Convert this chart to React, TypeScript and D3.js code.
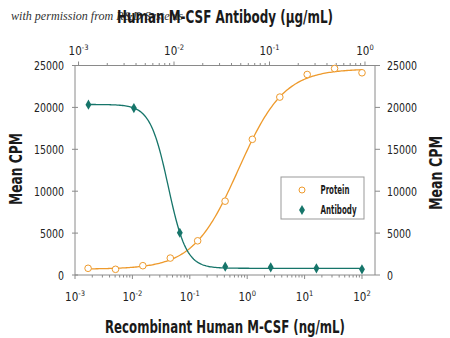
import React from 'react';
import * as d3 from 'd3';

// Protein (ng/mL, bottom axis)
const proteinConc = [0.00169, 0.00508, 0.0152, 0.0457, 0.137, 0.412, 1.23, 3.7, 11.1, 33.3, 100];
const proteinCPM = [800, 680, 1110, 2020, 4080, 8810, 16190, 21230, 23930, 24640, 24130];
// Antibody (µg/mL, top axis)
const antibodyConc = [0.00127, 0.0038, 0.0115, 0.0344, 0.103, 0.31, 0.93];
const antibodyCPM = [20320, 19920, 5040, 990, 910, 800, 680];

// fitted 4PL curve parameters
const proteinFit = { bottom: 700, top: 24600, ec50: 0.71, hill: 1.1 };
const antibodyFit = { bottom: 800, top: 20350, ec50: 0.0087, hill: 4.6 };

const yTicks = [0, 5000, 10000, 15000, 20000, 25000];
const bottomExps = [-3, -2, -1, 0, 1, 2];
const topExps = [-3, -2, -1, 0];

const FONT = "'Liberation Sans Narrow', 'DejaVu Sans Condensed', 'Roboto Condensed', sans-serif";
const ORANGE = '#EE9A2C';
const TEAL = '#16756A';
const AXIS = '#8a8a8a';

const L = 75, R = 375, T = 65.5, B = 275;

function PowLabel({ cx, y, e }: { cx: number; y: number; e: number }) {
  return (
    <text x={cx} y={y} textAnchor="middle" fontFamily={FONT} fontSize={11.5} fill="#222">
      10<tspan fontSize={7.5} dy={-5}>{e < 0 ? '-' + Math.abs(e) : String(e)}</tspan>
    </text>
  );
}

export default function App() {
  const x = d3.scaleLog().domain([1e-3, Math.pow(10, 2.2265)]).range([L, R]);
  const xt = d3.scaleLog().domain([Math.pow(10, -3.037), Math.pow(10, 0.105)]).range([L, R]);
  const y = d3.scaleLinear().domain([0, 25000]).range([B, T]);

  const fit = (p: any, c: number) => p.bottom + (p.top - p.bottom) / (1 + Math.pow(p.ec50 / c, p.hill));
  const fitA = (p: any, c: number) => p.bottom + (p.top - p.bottom) / (1 + Math.pow(c / p.ec50, p.hill));

  const sample = (lo: number, hi: number, n: number) =>
    d3.range(n + 1).map(i => Math.pow(10, Math.log10(lo) + (Math.log10(hi) - Math.log10(lo)) * i / n));

  const line = d3.line<[number, number]>().x(d => d[0]).y(d => d[1]).curve(d3.curveLinear);
  const pCurve = line(sample(proteinConc[0], proteinConc[proteinConc.length - 1], 200).map(c => [x(c), y(fit(proteinFit, c))]));
  const aCurve = line(sample(antibodyConc[0], antibodyConc[antibodyConc.length - 1], 200).map(c => [xt(c), y(fitA(antibodyFit, c))]));

  const diamond = d3.symbol().type(d3.symbolDiamond).size(30)();

  const minorTicks = (scale: any, lo: number, hi: number) => {
    const out: number[] = [];
    for (let e = lo; e <= hi; e++) for (let k = 1; k <= 9; k++) {
      const v = k * Math.pow(10, e);
      const px = scale(v);
      if (px >= L - 0.1 && px <= R + 0.1) out.push(v);
    }
    return out;
  };

  const tickLabelProps = (s: string) => ({
    fontFamily: FONT, fontSize: 13, fill: '#222',
    textLength: 6 * s.length, lengthAdjust: 'spacingAndGlyphs' as const,
  });

  return (
    <svg width={450} height={338} style={{ position: 'absolute', left: 0, top: 0, background: '#fff' }}>
      <rect width={450} height={338} fill="#fff" />
      <text x={11} y={20} fontFamily="'Liberation Serif', 'DejaVu Serif', serif" fontStyle="italic" fontSize={12.5} fill="#333"
        textLength={172} lengthAdjust="spacingAndGlyphs">with permission from R&amp;D Systems</text>
      <text x={225} y={23} textAnchor="middle" fontFamily={FONT} fontWeight="bold" fontSize={17} fill="#1a1a1a"
        textLength={216} lengthAdjust="spacingAndGlyphs">Human M-CSF Antibody (μg/mL)</text>

      {/* frame */}
      <line x1={L} x2={R} y1={T} y2={T} stroke={AXIS} />
      <line x1={L} x2={R} y1={B} y2={B} stroke={AXIS} />
      <line x1={L} x2={L} y1={T} y2={B} stroke={AXIS} />
      <line x1={R} x2={R} y1={T} y2={B} stroke={AXIS} />

      {/* bottom ticks */}
      {minorTicks(x, -3, 2).map((v, i) => {
        const major = Math.abs(Math.log10(v) - Math.round(Math.log10(v))) < 1e-9;
        return <line key={'bm' + i} x1={x(v)} x2={x(v)} y1={B} y2={B + (major ? 4 : 2.5)} stroke={AXIS} />;
      })}
      {bottomExps.map(e => <PowLabel key={'bl' + e} cx={x(Math.pow(10, e))} y={301} e={e} />)}

      {/* top ticks */}
      {minorTicks(xt, -4, 0).map((v, i) => {
        const major = Math.abs(Math.log10(v) - Math.round(Math.log10(v))) < 1e-9;
        return <line key={'tm' + i} x1={xt(v)} x2={xt(v)} y1={T} y2={T - (major ? 4 : 2.5)} stroke={AXIS} />;
      })}
      {topExps.map(e => <PowLabel key={'tl' + e} cx={xt(Math.pow(10, e))} y={55} e={e} />)}

      {/* y ticks */}
      {yTicks.map(v => (
        <g key={'y' + v}>
          <line x1={L - 3} x2={L + 3} y1={y(v)} y2={y(v)} stroke={AXIS} />
          <line x1={R} x2={R + 5} y1={y(v)} y2={y(v)} stroke={AXIS} />
          <text x={64} y={y(v) + 4.5} textAnchor="end" {...tickLabelProps(String(v))}>{v}</text>
          <text x={387} y={y(v) + 4.5} textAnchor="start" {...tickLabelProps(String(v))}>{v}</text>
        </g>
      ))}

      {/* curves */}
      <path d={pCurve || ''} fill="none" stroke={ORANGE} strokeWidth={1.3} />
      <path d={aCurve || ''} fill="none" stroke={TEAL} strokeWidth={1.3} />

      {proteinConc.map((c, i) => (
        <circle key={'p' + i} cx={x(c)} cy={y(proteinCPM[i])} r={3.3} fill="#fff" stroke={ORANGE} strokeWidth={1} />
      ))}
      {antibodyConc.map((c, i) => (
        <path key={'a' + i} d={diamond || ''} transform={`translate(${xt(c)},${y(antibodyCPM[i])})`} fill={TEAL} />
      ))}

      {/* legend */}
      <rect x={281} y={177} width={83} height={42} fill="#fff" stroke="#999" />
      <circle cx={302} cy={190} r={3} fill="#fff" stroke={ORANGE} />
      <path d={diamond || ''} transform="translate(302,210)" fill={TEAL} />
      <text x={320.5} y={194} fontFamily={FONT} fontWeight="bold" fontSize={11.5} fill="#1a1a1a"
        textLength={29} lengthAdjust="spacingAndGlyphs">Protein</text>
      <text x={320.5} y={214} fontFamily={FONT} fontWeight="bold" fontSize={11.5} fill="#1a1a1a"
        textLength={36} lengthAdjust="spacingAndGlyphs">Antibody</text>

      {/* axis titles */}
      <text x={225} y={333} textAnchor="middle" fontFamily={FONT} fontWeight="bold" fontSize={17} fill="#1a1a1a"
        textLength={240} lengthAdjust="spacingAndGlyphs">Recombinant Human M-CSF (ng/mL)</text>
      <text transform="translate(22,169) rotate(-90)" textAnchor="middle" fontFamily={FONT} fontWeight="bold" fontSize={17} fill="#1a1a1a"
        textLength={72} lengthAdjust="spacingAndGlyphs">Mean CPM</text>
      <text transform="translate(442,173) rotate(-90)" textAnchor="middle" fontFamily={FONT} fontWeight="bold" fontSize={17} fill="#1a1a1a"
        textLength={74} lengthAdjust="spacingAndGlyphs">Mean CPM</text>
    </svg>
  );
}
